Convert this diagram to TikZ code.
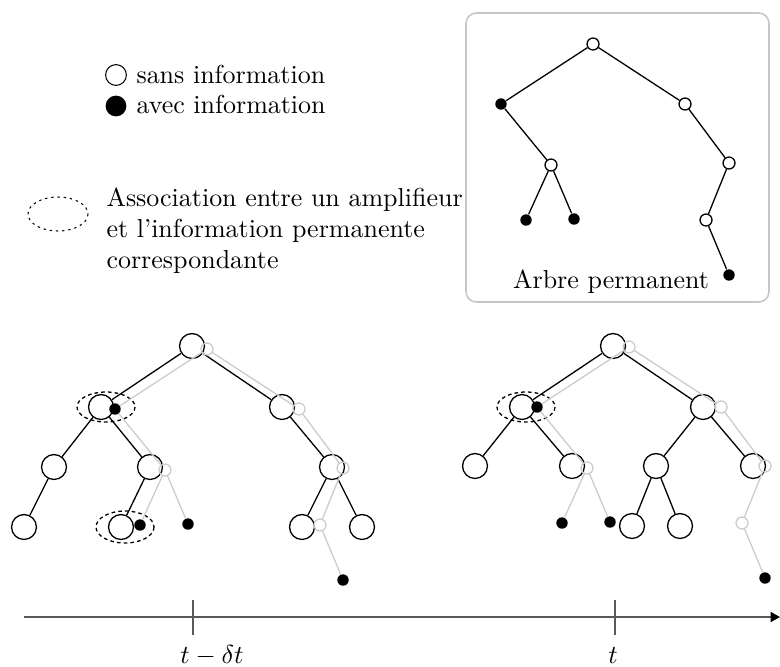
\documentclass[tikz,border=0pt]{standalone}
\usepackage{amsmath,amssymb}
\usetikzlibrary{arrows.meta}

\begin{document}
\begin{tikzpicture}[x=0.385pt,y=-0.385pt,
  amp/.style={circle,draw,fill=white,line width=0.5pt,minimum size=9.6pt,inner sep=0pt},
  vide/.style={circle,draw,line width=0.5pt,minimum size=4.6pt,inner sep=0pt},
  plein/.style={circle,fill=black,minimum size=4.4pt,inner sep=0pt},
  lien/.style={line width=0.5pt},
  assoc/.style={line width=0.5pt,dash pattern=on 1.4pt off 1.2pt},
  axe/.style={line width=0.7pt,draw=black!65}]
\useasboundingbox (0,0) rectangle (780,666);

% legende
\node[circle,draw,minimum size=8pt,inner sep=0pt] (lvide) at (116,75) {};
\node[circle,fill=black,minimum size=8pt,inner sep=0pt] (lplein) at (116,106) {};
\node[anchor=base west,inner sep=0pt] (tvide) at (136,83) {sans information};
\node[anchor=base west,inner sep=0pt] (tplein) at (136,113) {avec information};
\draw[line width=0.4pt,dash pattern=on 0.9pt off 1.5pt] (58,214) ellipse [x radius=30,y radius=17];
\node[anchor=north west,align=left,inner sep=0pt] (tassoc) at (106,187)
  {Association entre un amplifieur\\et l'information permanente\\correspondante};

\draw[gray!45,line width=0.6pt,rounded corners=4pt] (466,13) rectangle (769,302);
\node[anchor=base] (titre) at (611,288) {Arbre permanent};

% amplificateurs
\foreach \n/\x/\y in {g0/192/346,gL/101/407,gR/282/407,gLL/54/467,gLR/150/467,gRR/332/467,
  gLLL/24/527,gLRL/121/527,gRRL/302/527,gRRR/362/527,
  d0/613/346,dL/522/407,dR/703/407,dLL/475/466,dLR/572/466,dRL/656/466,dRR/753/466,
  dRLL/632/526,dRLR/680/526}{\node[amp] (\n) at (\x,\y) {};}
\foreach \a/\b in {g0/gL,g0/gR,gL/gLL,gL/gLR,gLL/gLLL,gLR/gLRL,gR/gRR,gRR/gRRL,gRR/gRRR,
  d0/dL,d0/dR,dL/dLL,dL/dLR,dR/dRL,dR/dRR,dRL/dRLL,dRL/dRLR}{\draw[lien] (\a) -- (\b);}

\draw[assoc] (106,407) ellipse [x radius=29,y radius=15];
\draw[assoc] (125,527) ellipse [x radius=29,y radius=16];
\draw[assoc] (526,407) ellipse [x radius=29,y radius=15];

% arbre permanent
\foreach \p/\cx/\cy/\c in {p/593/44/black,a/207/349/gray!40,b/629/347/gray!40}{
\begin{scope}[shift={(\cx,\cy)}]
\node[vide,draw=\c] (\p0) at (0,0) {};
\node[plein] (\p1) at (-92,60) {};
\node[vide,draw=\c] (\p2) at (92,60) {};
\node[vide,draw=\c] (\p3) at (-42,121) {};
\node[plein] (\p4) at (-67,176) {};
\node[plein] (\p5) at (-19,175) {};
\node[vide,draw=\c] (\p6) at (136,119) {};
\node[vide,draw=\c] (\p7) at (113,176) {};
\node[plein] (\p8) at (136,231) {};
\draw[lien,\c] (\p0) -- (\p1) (\p0) -- (\p2) (\p1) -- (\p3) (\p3) -- (\p4) (\p3) -- (\p5)
  (\p2) -- (\p6) (\p6) -- (\p7) (\p7) -- (\p8);
\end{scope}
}

% temps
\coordinate (debut) at (24,617);
\coordinate (fin) at (780,617);
\draw[axe,-{Triangle[length=3.6pt,width=3.8pt,color=black]}] (debut) -- (fin);
\foreach \x in {193,615}{\draw[axe] (\x,600) -- (\x,635);}
\node[anchor=base] (tmoins) at (212,663) {$t-\delta t$};
\node[anchor=base] (tact) at (613,663) {$t$};
\end{tikzpicture}
\end{document}
